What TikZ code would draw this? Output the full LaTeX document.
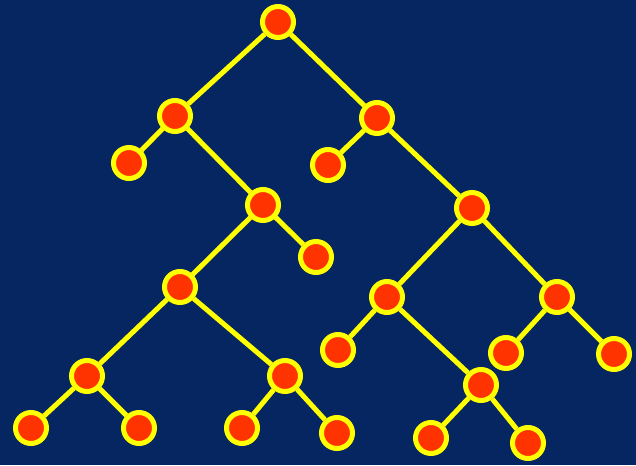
\documentclass[tikz,border=0pt]{standalone}
\definecolor{bg}{RGB}{5,38,96}
\definecolor{nodered}{RGB}{255,51,0}
\definecolor{ylw}{RGB}{255,255,0}
\tikzset{
  tnode/.style={circle, fill=nodered, draw=ylw, line width=5pt, minimum size=31pt, inner sep=0pt},
  tedge/.style={draw=ylw, line width=5pt}
}
\begin{document}
\begin{tikzpicture}[x=1pt,y=-1pt]
\fill[bg] (0,0) rectangle (636,465);
\useasboundingbox (0,0) rectangle (636,465);
\node[tnode] (r) at (278,22) {};
\node[tnode] (a) at (175,116) {};
\node[tnode] (b) at (377,118) {};
\node[tnode] (al) at (129,163) {};
\node[tnode] (ar) at (263,205) {};
\node[tnode] (bl) at (328,165) {};
\node[tnode] (br) at (472,208) {};
\node[tnode] (arr) at (316,257) {};
\node[tnode] (arl) at (180,287) {};
\node[tnode] (brl) at (387,297) {};
\node[tnode] (brr) at (557,297) {};
\node[tnode] (brll) at (338,350) {};
\node[tnode] (brrl) at (506,353) {};
\node[tnode] (brrr) at (614,354) {};
\node[tnode] (arll) at (87,376) {};
\node[tnode] (arlr) at (285,376) {};
\node[tnode] (brlr) at (481,385) {};
\node[tnode] (arlll) at (31,428) {};
\node[tnode] (arllr) at (139,428) {};
\node[tnode] (arlrl) at (242,428) {};
\node[tnode] (arlrr) at (337,433) {};
\node[tnode] (brlrl) at (431,438) {};
\node[tnode] (brlrr) at (528,443) {};
\path[tedge] (r) -- (a) (r) -- (b)
  (a) -- (al) (a) -- (ar)
  (b) -- (bl) (b) -- (br)
  (ar) -- (arl) (ar) -- (arr)
  (br) -- (brl) (br) -- (brr)
  (arl) -- (arll) (arl) -- (arlr)
  (brl) -- (brll) (brl) -- (brlr)
  (brr) -- (brrl) (brr) -- (brrr)
  (arll) -- (arlll) (arll) -- (arllr)
  (arlr) -- (arlrl) (arlr) -- (arlrr)
  (brlr) -- (brlrl) (brlr) -- (brlrr);
\end{tikzpicture}
\end{document}
